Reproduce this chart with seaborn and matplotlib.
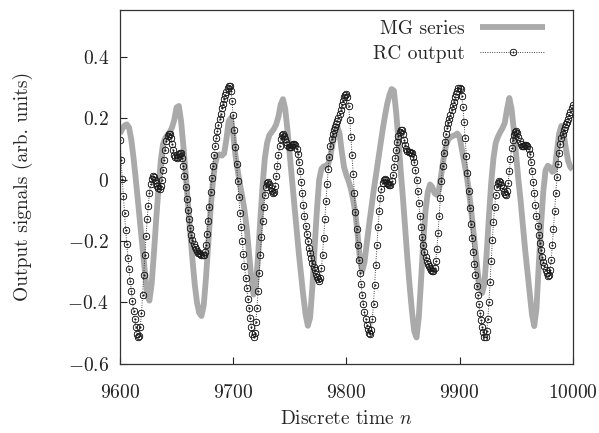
import numpy as np
import pandas as pd
import seaborn as sns
import matplotlib
matplotlib.use('Agg')
from matplotlib import pyplot as plt

# MG series, every 2 steps (9600 ... 10000)
mg_time = np.arange(9600, 10001, 2)
mg_values = [
    0.150, 0.165, 0.176, 0.180, 0.170, 0.130, 0.070, 0.000, -0.075, -0.150,
    -0.225, -0.300, -0.375, -0.395, -0.340, -0.240, -0.130, -0.030, 0.060, 0.115,
    0.135, 0.145, 0.155, 0.170, 0.195, 0.235, 0.240, 0.190, 0.110, 0.020,
    -0.075, -0.170, -0.260, -0.340, -0.400, -0.435, -0.445, -0.410, -0.320, -0.210,
    -0.100, -0.010, 0.050, 0.078, 0.082, 0.078, 0.085, 0.130, 0.190, 0.200,
    0.150, 0.080, 0.030, -0.015, -0.055, -0.100, -0.160, -0.240, -0.320, -0.375,
    -0.350, -0.250, -0.130, -0.020, 0.070, 0.120, 0.145, 0.155, 0.165, 0.180,
    0.205, 0.245, 0.262, 0.230, 0.160, 0.080, 0.000, -0.080, -0.160, -0.240,
    -0.310, -0.380, -0.440, -0.477, -0.450, -0.350, -0.220, -0.100, 0.000, 0.035,
    0.043, 0.045, 0.050, 0.080, 0.120, 0.155, 0.173, 0.150, 0.090, 0.040,
    0.015, -0.005, -0.030, -0.065, -0.110, -0.180, -0.260, -0.298, -0.270, -0.210,
    -0.150, -0.095, -0.040, 0.010, 0.060, 0.110, 0.160, 0.205, 0.245, 0.275,
    0.295, 0.290, 0.220, 0.130, 0.030, -0.060, -0.160, -0.260, -0.350, -0.430,
    -0.495, -0.515, -0.450, -0.330, -0.200, -0.100, -0.040, -0.016, -0.025, -0.045,
    -0.050, -0.030, 0.020, 0.070, 0.110, 0.130, 0.138, 0.142, 0.145, 0.150,
    0.140, 0.100, 0.060, 0.020, -0.030, -0.090, -0.160, -0.230, -0.300, -0.350,
    -0.370, -0.340, -0.240, -0.120, -0.010, 0.070, 0.120, 0.140, 0.155, 0.168,
    0.185, 0.230, 0.266, 0.230, 0.160, 0.080, 0.000, -0.070, -0.150, -0.230,
    -0.300, -0.370, -0.440, -0.478, -0.420, -0.280, -0.150, -0.040, 0.030, 0.045,
    0.040, 0.025, 0.030, 0.090, 0.150, 0.175, 0.150, 0.100, 0.060, 0.040,
    0.033,
]

# RC output, one value per time step (9600 ... 10000)
rc_time = np.arange(9600, 10001)
rc_values = [
    0.130, 0.065, 0.003, -0.054, -0.108, -0.163, -0.211, -0.255, -0.293, -0.331,
    -0.363, -0.396, -0.428, -0.455, -0.482, -0.504, -0.515, -0.510, -0.480, -0.435,
    -0.375, -0.310, -0.245, -0.185, -0.130, -0.085, -0.045, -0.015, 0.002, 0.010,
    0.008, 0.000, -0.010, -0.020, -0.027, -0.030, -0.022, 0.000, 0.030, 0.065,
    0.098, 0.125, 0.142, 0.150, 0.148, 0.135, 0.115, 0.095, 0.080, 0.072,
    0.070, 0.074, 0.082, 0.088, 0.085, 0.070, 0.045, 0.012, -0.025, -0.062,
    -0.098, -0.130, -0.158, -0.180, -0.197, -0.210, -0.220, -0.228, -0.234, -0.238,
    -0.241, -0.244, -0.246, -0.247, -0.245, -0.235, -0.212, -0.178, -0.135, -0.088,
    -0.040, 0.005, 0.045, 0.080, 0.110, 0.135, 0.158, 0.178, 0.197, 0.215,
    0.232, 0.248, 0.262, 0.275, 0.287, 0.297, 0.304, 0.306, 0.290, 0.255,
    0.210, 0.160, 0.105, 0.050, -0.005, -0.058, -0.108, -0.155, -0.200, -0.242,
    -0.282, -0.320, -0.355, -0.388, -0.420, -0.450, -0.480, -0.505, -0.515, -0.500,
    -0.465, -0.420, -0.365, -0.305, -0.245, -0.188, -0.135, -0.090, -0.052, -0.025,
    -0.010, -0.008, -0.015, -0.027, -0.038, -0.044, -0.040, -0.020, 0.010, 0.045,
    0.080, 0.110, 0.132, 0.145, 0.148, 0.142, 0.132, 0.121, 0.112, 0.107,
    0.105, 0.107, 0.112, 0.116, 0.117, 0.112, 0.100, 0.082, 0.058, 0.028,
    -0.008, -0.045, -0.082, -0.118, -0.150, -0.178, -0.202, -0.223, -0.241, -0.257,
    -0.271, -0.284, -0.296, -0.307, -0.317, -0.325, -0.330, -0.320, -0.290, -0.245,
    -0.190, -0.130, -0.070, -0.015, 0.035, 0.075, 0.108, 0.132, 0.148, 0.160,
    0.170, 0.180, 0.190, 0.202, 0.215, 0.228, 0.242, 0.256, 0.268, 0.277,
    0.280, 0.270, 0.240, 0.195, 0.140, 0.080, 0.018, -0.045, -0.105, -0.162,
    -0.215, -0.262, -0.305, -0.342, -0.375, -0.405, -0.432, -0.455, -0.474, -0.489,
    -0.499, -0.503, -0.490, -0.455, -0.405, -0.345, -0.280, -0.215, -0.155, -0.102,
    -0.060, -0.030, -0.010, 0.000, 0.002, -0.003, -0.010, -0.016, -0.019, -0.017,
    -0.005, 0.015, 0.042, 0.070, 0.098, 0.122, 0.142, 0.156, 0.163, 0.160,
    0.148, 0.130, 0.112, 0.100, 0.093, 0.090, 0.089, 0.088, 0.085, 0.075,
    0.058, 0.032, 0.000, -0.038, -0.078, -0.118, -0.155, -0.188, -0.215, -0.236,
    -0.252, -0.265, -0.275, -0.283, -0.289, -0.294, -0.297, -0.298, -0.290, -0.265,
    -0.225, -0.175, -0.118, -0.060, -0.005, 0.045, 0.088, 0.122, 0.148, 0.168,
    0.184, 0.198, 0.212, 0.226, 0.240, 0.254, 0.268, 0.280, 0.290, 0.297,
    0.300, 0.295, 0.272, 0.235, 0.188, 0.135, 0.078, 0.020, -0.038, -0.093,
    -0.145, -0.192, -0.235, -0.275, -0.312, -0.346, -0.378, -0.407, -0.434, -0.458,
    -0.480, -0.498, -0.512, -0.515, -0.495, -0.455, -0.400, -0.335, -0.265, -0.198,
    -0.138, -0.088, -0.050, -0.025, -0.010, -0.005, -0.008, -0.017, -0.028, -0.039,
    -0.047, -0.050, -0.038, -0.010, 0.028, 0.068, 0.102, 0.128, 0.145, 0.155,
    0.158, 0.152, 0.140, 0.127, 0.116, 0.110, 0.108, 0.109, 0.112, 0.113,
    0.110, 0.100, 0.082, 0.058, 0.028, -0.008, -0.045, -0.082, -0.118, -0.152,
    -0.182, -0.208, -0.231, -0.251, -0.268, -0.283, -0.296, -0.306, -0.313, -0.312,
    -0.295, -0.262, -0.215, -0.160, -0.102, -0.045, 0.008, 0.052, 0.088, 0.115,
    0.134, 0.148, 0.160, 0.170, 0.180, 0.189, 0.199, 0.210, 0.221, 0.232,
    0.244,
]

x_ticks = [9600, 9700, 9800, 9900, 10000]
y_ticks = [-0.6, -0.4, -0.2, 0, 0.2, 0.4]
y_tick_labels = ['$-0.6$', '$-0.4$', '$-0.2$', '$0$', '$0.2$', '$0.4$']

mg = pd.DataFrame({'n': mg_time, 'value': mg_values})
rc = pd.DataFrame({'n': rc_time, 'value': rc_values})

sns.set_style('ticks')
plt.rcParams['font.family'] = 'serif'
plt.rcParams['font.serif'] = ['cmr10', 'DejaVu Serif']
plt.rcParams['mathtext.fontset'] = 'cm'
plt.rcParams['axes.unicode_minus'] = False

fig = plt.figure(figsize=(5.99, 4.33), dpi=100)
ax = fig.add_axes([0.2003, 0.1605, 0.7558, 0.8164])

sns.lineplot(data=mg, x='n', y='value', ax=ax, color='#aaaaaa', linewidth=4.2,
             label='MG series', solid_capstyle='butt')
sns.lineplot(data=rc, x='n', y='value', ax=ax, color='#1a1a1a', linewidth=0.7,
             linestyle=(0, (0.8, 1.6)), marker=r'$\odot$', markersize=5.0,
             markeredgewidth=0.3, markeredgecolor='#1a1a1a', label='RC output')

ax.set_xlim(9600, 10000)
ax.set_ylim(-0.6, 0.553)
ax.set_xticks(x_ticks, labels=['$%d$' % v for v in x_ticks])
ax.set_yticks(y_ticks, labels=y_tick_labels)
ax.tick_params(direction='in', length=5, width=0.8, labelsize=14, colors='#222222')
ax.tick_params(axis='x', pad=15)
ax.tick_params(axis='y', pad=8)
for spine in ax.spines.values():
    spine.set_visible(True)
    spine.set_linewidth(0.9)
    spine.set_color('#333333')

ax.set_xlabel('Discrete time $n$', fontsize=14, labelpad=5.5)
ax.set_ylabel('Output signals (arb. units)', fontsize=14, labelpad=25)

ax.legend(loc='upper right', bbox_to_anchor=(0.957, 0.993), borderaxespad=0,
          frameon=False, markerfirst=False, numpoints=1, fontsize=14,
          handlelength=3.35, handletextpad=0.8, labelspacing=0.35)

fig.savefig('out.png', dpi=100)
